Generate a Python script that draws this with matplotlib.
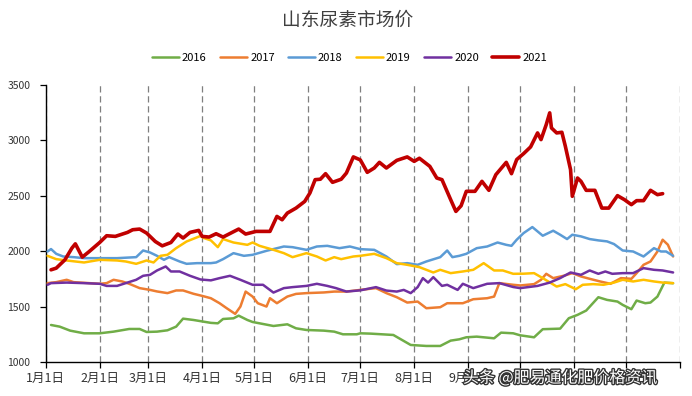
import matplotlib.pyplot as plt
import matplotlib.patheffects as pe

plt.rcParams['font.family'] = ['Noto Sans CJK SC', 'DejaVu Sans']

# 横轴：从1月1日起算的天数
month_days = [0, 31, 59, 90, 120, 151, 181, 212, 243, 273, 304, 334, 365]
month_labels = [f"{m}月1日" for m in range(1, 13)] + [""]

years = ["2016", "2017", "2018", "2019", "2020", "2021"]
colors = ["#70AD47", "#ED7D31", "#5B9BD5", "#FFC000", "#7030A0", "#C00000"]

# -------- 数据（元/吨）
d2016 = [3, 8, 14, 22, 31, 39, 48, 54, 58, 64, 70, 75, 79, 85, 90, 95, 99, 102, 108, 111,
         116, 119, 125, 131, 139, 144, 150, 160, 166, 171, 179, 181, 187, 200, 210, 219, 227,
         233, 238, 242, 248, 258, 262, 269, 273, 281, 286, 296, 301, 306, 311, 318, 323, 329,
         332, 337, 340, 345, 348, 352, 356, 361]
v2016 = [1338, 1323, 1287, 1263, 1263, 1278, 1302, 1302, 1275, 1278, 1290, 1323, 1395, 1383,
         1370, 1357, 1353, 1392, 1398, 1422, 1383, 1365, 1347, 1329, 1344, 1308, 1293, 1287,
         1278, 1254, 1254, 1263, 1260, 1248, 1158, 1149, 1149, 1197, 1209, 1227, 1233, 1218,
         1269, 1263, 1245, 1227, 1300, 1305, 1399, 1429, 1468, 1588, 1564, 1549, 1519, 1480,
         1558, 1534, 1540, 1594, 1720, 1714]

d2017 = [1, 6, 12, 16, 25, 31, 35, 39, 44, 48, 54, 60, 64, 70, 75, 79, 85, 90, 95, 100, 104,
         109, 112, 115, 119, 122, 127, 129, 133, 139, 144, 150, 160, 166, 173, 181, 190, 196,
         202, 208, 214, 219, 227, 231, 240, 246, 254, 258, 261, 269, 273, 281, 285, 288, 292,
         298, 303, 308, 313, 319, 325, 331, 337, 340, 344, 348, 352, 355, 358, 361]
v2017 = [1715, 1724, 1745, 1724, 1715, 1709, 1715, 1745, 1730, 1709, 1670, 1654, 1640, 1625,
         1649, 1649, 1619, 1600, 1579, 1534, 1490, 1438, 1504, 1639, 1594, 1534, 1504, 1579,
         1534, 1594, 1618, 1625, 1631, 1639, 1639, 1654, 1670, 1625, 1588, 1540, 1549, 1489,
         1498, 1534, 1534, 1570, 1579, 1594, 1715, 1700, 1694, 1706, 1745, 1799, 1760, 1781,
         1805, 1775, 1754, 1730, 1709, 1760, 1754, 1805, 1880, 1910, 2000, 2106, 2061, 1955]

d2018 = [1, 3, 6, 10, 16, 22, 31, 41, 52, 56, 60, 64, 68, 71, 77, 81, 87, 95, 98, 102, 108,
         114, 119, 127, 137, 142, 150, 156, 162, 169, 175, 181, 189, 196, 202, 208, 214, 219,
         227, 231, 234, 238, 242, 248, 254, 260, 265, 268, 271, 275, 280, 286, 292, 296, 300,
         303, 308, 313, 318, 323, 327, 332, 338, 344, 350, 354, 357, 361]
v2018 = [2000, 2022, 1979, 1955, 1949, 1940, 1940, 1940, 1949, 2009, 1991, 1961, 1925, 1949,
         1910, 1889, 1895, 1895, 1901, 1931, 1985, 1961, 1970, 2006, 2045, 2039, 2015, 2045,
         2051, 2030, 2045, 2021, 2015, 1955, 1886, 1895, 1880, 1910, 1949, 2009, 1949, 1961,
         1979, 2030, 2045, 2081, 2060, 2051, 2106, 2166, 2220, 2142, 2187, 2151, 2112, 2151,
         2136, 2112, 2100, 2091, 2067, 2009, 2000, 1955, 2030, 2000, 2000, 1961]

d2019 = [1, 6, 12, 22, 31, 41, 46, 52, 58, 62, 66, 70, 75, 81, 89, 91, 95, 99, 102, 108, 116,
         119, 123, 131, 137, 142, 150, 156, 161, 166, 170, 177, 181, 189, 196, 202, 208, 215,
         223, 227, 233, 240, 246, 252, 258, 263, 269, 275, 281, 286, 294, 299, 305, 309, 315,
         321, 327, 332, 338, 344, 350, 355, 361]
v2019 = [1961, 1931, 1919, 1901, 1925, 1919, 1910, 1889, 1919, 1901, 1961, 1970, 2030, 2090,
         2140, 2121, 2100, 2039, 2112, 2081, 2060, 2081, 2051, 2015, 1985, 1949, 1985, 1955,
         1919, 1949, 1931, 1955, 1961, 1979, 1940, 1895, 1880, 1859, 1811, 1835, 1805, 1820,
         1835, 1895, 1829, 1829, 1799, 1800, 1805, 1760, 1684, 1706, 1660, 1700, 1706, 1700,
         1720, 1745, 1730, 1745, 1730, 1720, 1715]

d2020 = [1, 3, 12, 22, 31, 35, 41, 47, 52, 56, 60, 64, 69, 72, 77, 83, 89, 95, 100, 106, 112,
         119, 125, 131, 137, 142, 150, 156, 162, 167, 173, 181, 190, 196, 202, 206, 210, 214,
         217, 220, 223, 228, 231, 237, 240, 246, 254, 261, 269, 273, 283, 290, 296, 302, 308,
         313, 318, 322, 326, 332, 338, 344, 350, 355, 361]
v2020 = [1700, 1715, 1720, 1715, 1709, 1690, 1690, 1720, 1745, 1781, 1790, 1829, 1865, 1820,
         1820, 1781, 1748, 1740, 1760, 1781, 1745, 1700, 1700, 1630, 1670, 1679, 1690, 1709,
         1690, 1670, 1639, 1650, 1679, 1648, 1639, 1654, 1625, 1679, 1760, 1720, 1769, 1690,
         1700, 1654, 1709, 1670, 1709, 1715, 1680, 1670, 1690, 1720, 1760, 1811, 1790, 1829,
         1799, 1820, 1799, 1805, 1805, 1850, 1835, 1829, 1811]

d2021 = [3, 6, 11, 15, 17, 21, 25, 31, 35, 40, 47, 50, 54, 58, 63, 67, 72, 76, 79, 83, 88,
         90, 94, 98, 102, 111, 115, 121, 129, 133, 136, 139, 144, 149, 152, 155, 158, 161, 165,
         170, 173, 177, 181, 185, 189, 192, 196, 202, 208, 212, 215, 221, 225, 228, 233, 236,
         239, 242, 247, 251, 255, 259, 265, 268, 271, 275, 279, 283, 285, 288, 290, 291, 294,
         297, 299, 302, 303, 306, 308, 311, 316, 320, 324, 329, 333, 337, 340, 344, 348, 352,
         355]
v2021 = [1835, 1850, 1925, 2030, 2069, 1949, 2000, 2081, 2142, 2136, 2172, 2196, 2202, 2166,
         2090, 2051, 2081, 2157, 2121, 2172, 2190, 2136, 2130, 2160, 2130, 2202, 2157, 2181,
         2181, 2316, 2286, 2346, 2391, 2451, 2527, 2647, 2651, 2701, 2623, 2651, 2707, 2852,
         2825, 2713, 2752, 2803, 2752, 2821, 2852, 2812, 2840, 2767, 2662, 2647, 2467, 2361,
         2412, 2542, 2542, 2632, 2551, 2692, 2803, 2701, 2828, 2882, 2942, 3068, 3008, 3143,
         3249, 3113, 3068, 3074, 2948, 2737, 2497, 2662, 2632, 2551, 2551, 2391, 2391, 2503,
         2467, 2422, 2458, 2458, 2551, 2512, 2521]

days = [d2016, d2017, d2018, d2019, d2020, d2021]
values = [v2016, v2017, v2018, v2019, v2020, v2021]

# -------- 绘图
fig = plt.figure(figsize=(6.92, 3.96), dpi=100)
ax = fig.add_axes([0.0662, 0.0846, 0.9165, 0.7008])

for i in range(len(years)):
    lw = 2.6 if years[i] == "2021" else 1.8
    ax.plot(days[i], values[i], color=colors[i], linewidth=lw, label=years[i],
            solid_joinstyle="round", solid_capstyle="round", zorder=3 + i)

ax.set_xlim(0, 365)
ax.set_ylim(1000, 3500)
ax.set_yticks(range(1000, 3501, 500))
ax.set_xticks(month_days)
ax.set_xticklabels(month_labels)

ax.grid(axis="x", color="#7f7f7f", linestyle=(0, (5, 3)), linewidth=0.9, zorder=1)
ax.spines["top"].set_visible(False)
ax.spines["right"].set_visible(False)
ax.spines["left"].set_linewidth(1.0)
ax.spines["bottom"].set_linewidth(1.0)

ax.tick_params(axis="x", direction="out", length=4, width=0.9, pad=3,
               labelsize=9, labelcolor="#333333")
ax.tick_params(axis="y", direction="out", length=4, width=0.9, pad=7,
               labelsize=7.5, labelcolor="#333333")

# 标题与图例
fig.text(0.502, 0.949, "山东尿素市场价", ha="center", va="center",
         fontsize=13.5, color="#404040")
fig.legend(loc="center", bbox_to_anchor=(0.505, 0.853), ncol=6, frameon=False,
           fontsize=8, handlelength=2.4, handletextpad=0.3, columnspacing=1.2)

# 水印
fig.text(0.669, 0.045, "头条 @肥易通化肥价格资讯", ha="left", va="center",
         fontsize=11.5, color="white",
         path_effects=[pe.withStroke(linewidth=2, foreground="#333333")])

fig.savefig("out.png", dpi=100)
